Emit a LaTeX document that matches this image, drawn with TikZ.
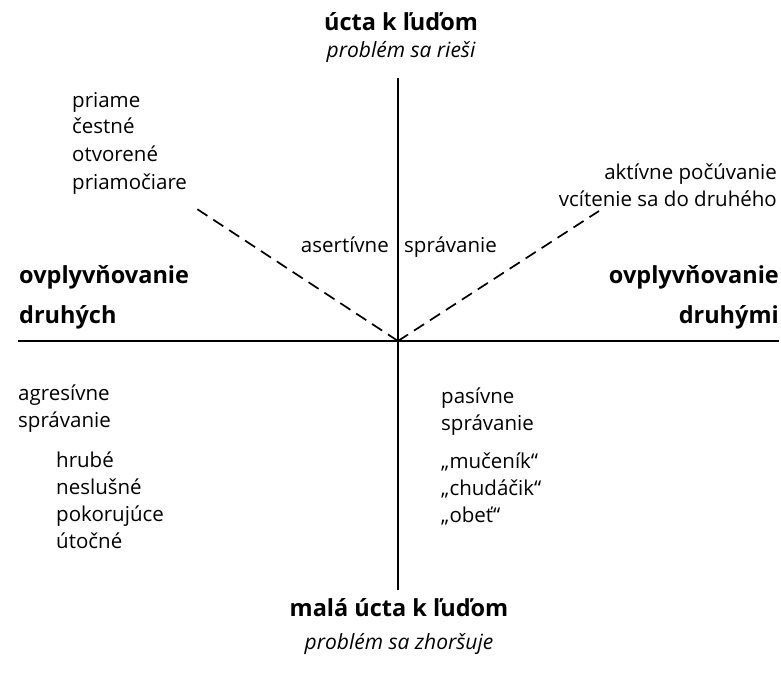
\documentclass[tikz,border=0pt]{standalone}
\usepackage{fontspec}
\setmainfont{Open Sans}
\begin{document}
\begin{tikzpicture}[x=1pt,y=-1pt,
  txt/.style={inner sep=0pt,font=\fontsize{20.5}{24}\selectfont},
  head/.style={inner sep=0pt,font=\fontsize{23.5}{26}\selectfont\bfseries},
  sub/.style={inner sep=0pt,font=\fontsize{21}{24}\selectfont\itshape},
  axis/.style={line width=2.6pt},
  dashline/.style={line width=1.7pt,dash pattern=on 12pt off 7pt}]
\useasboundingbox (0,0) rectangle (781,674);
\coordinate (O) at (398,341);
\coordinate (T) at (398,78);
\coordinate (B) at (398,590);
\coordinate (L) at (18,341);
\coordinate (R) at (779,341);
\coordinate (DL) at (197,209);
\coordinate (DR) at (599,211);
\draw[axis] (T) -- (B);
\draw[axis] (L) -- (R);
\draw[dashline] (O) -- (DL);
\draw[dashline] (O) -- (DR);
% top
\node[head,anchor=base] (top) at (401,31) {úcta k ľuďom};
\node[sub,anchor=base] (topsub) at (401,58) {problém sa rieši};
% bottom
\node[head,anchor=base] (bot) at (399,616) {malá úcta k ľuďom};
\node[sub,anchor=base] (botsub) at (399,649) {problém sa zhoršuje};
% upper left list
\node[txt,anchor=base west] (u1) at (72,107) {priame};
\node[txt,anchor=base west] (u2) at (72,134) {čestné};
\node[txt,anchor=base west] (u3) at (72,161) {otvorené};
\node[txt,anchor=base west] (u4) at (72,189) {priamočiare};
% assertive
\node[txt,anchor=base east] (as1) at (389,252) {asertívne};
\node[txt,anchor=base west] (as2) at (404,252) {správanie};
% upper right
\node[txt,anchor=base east] (ur1) at (777,179) {aktívne počúvanie};
\node[txt,anchor=base east] (ur2) at (777,206) {vcítenie sa do druhého};
% sides
\node[head,anchor=base west] (l1) at (19,283) {ovplyvňovanie};
\node[head,anchor=base west] (l2) at (19,323) {druhých};
\node[head,anchor=base east] (r1) at (779,283) {ovplyvňovanie};
\node[head,anchor=base east] (r2) at (779,323) {druhými};
% lower left
\node[txt,anchor=base west] (a1) at (18,400) {agresívne};
\node[txt,anchor=base west] (a2) at (18,427) {správanie};
\node[txt,anchor=base west] (a3) at (56,467) {hrubé};
\node[txt,anchor=base west] (a4) at (56,494) {neslušné};
\node[txt,anchor=base west] (a5) at (56,521) {pokorujúce};
\node[txt,anchor=base west] (a6) at (56,548) {útočné};
% lower right
\node[txt,anchor=base west] (p1) at (441,403) {pasívne};
\node[txt,anchor=base west] (p2) at (441,430) {správanie};
\node[txt,anchor=base west] (p3) at (441,468) {„mučeník“};
\node[txt,anchor=base west] (p4) at (441,495) {„chudáčik“};
\node[txt,anchor=base west] (p5) at (441,522) {„obeť“};
\end{tikzpicture}
\end{document}
